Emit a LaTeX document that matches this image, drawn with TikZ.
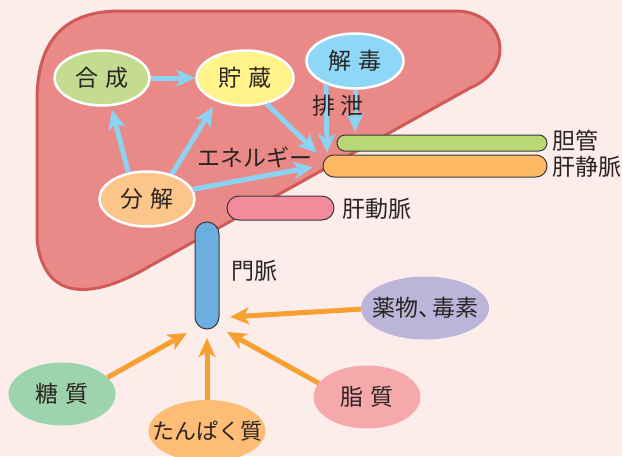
\documentclass[tikz,border=0pt]{standalone}
\usepackage{fontspec}
\setmainfont{Noto Sans CJK JP}
\usetikzlibrary{shapes.geometric,arrows.meta}
\definecolor{bgc}{HTML}{FCEDEB}
\definecolor{liverfill}{HTML}{E98A89}
\definecolor{liverline}{HTML}{CF5A57}
\definecolor{cgousei}{HTML}{C4DC8F}
\definecolor{cchozo}{HTML}{FFF38A}
\definecolor{cgedoku}{HTML}{8FD7F7}
\definecolor{cbunkai}{HTML}{FCC58A}
\definecolor{barrowc}{HTML}{8CD3F2}
\definecolor{oarrowc}{HTML}{F7A032}
\definecolor{ctankan}{HTML}{B9D774}
\definecolor{cjomyaku}{HTML}{FDB963}
\definecolor{cdomyaku}{HTML}{F38B9B}
\definecolor{cmonmyaku}{HTML}{6CAEE0}
\definecolor{cyaku}{HTML}{BBB5DA}
\definecolor{ctou}{HTML}{9DD3AD}
\definecolor{ctanpaku}{HTML}{FDBD76}
\definecolor{cshi}{HTML}{F6A9AB}
\definecolor{txt}{HTML}{2B2422}
\definecolor{barline}{HTML}{3A3A3A}
\newcommand{\zb}[1]{\makebox[0pt][c]{#1}}
\begin{document}
\begin{tikzpicture}[x=1pt,y=-1pt,
  every node/.style={text=txt,font=\fontsize{23}{27}\selectfont},
  func/.style={ellipse,draw=white,line width=2.5pt,minimum width=95pt,minimum height=55pt,inner sep=0pt},
  src/.style={ellipse,minimum width=107pt,minimum height=63pt,inner sep=0pt},
  vessel/.style={rectangle,draw=barline,line width=1pt,inner sep=0pt},
  barrow/.style={draw=barrowc,line width=5pt,-{Stealth[length=19pt,width=17pt,inset=5pt]}},
  oarrow/.style={draw=oarrowc,line width=5pt,-{Stealth[length=19pt,width=17pt,inset=5pt]}},
  lbl/.style={anchor=west,inner sep=0pt}]
\fill[bgc] (0,0) rectangle (622,456);
\useasboundingbox (0,0) rectangle (622,456);
% liver
\draw[fill=liverfill,draw=liverline,line width=3pt]
  (120,11) -- (455,11) .. controls (505,11) and (518,68) .. (470,88)
  -- (150,266) .. controls (105,293) and (45,310) .. (37,240)
  -- (37,100) .. controls (37,35) and (70,11) .. (120,11) -- cycle;
% vessels
\node[vessel,fill=ctankan,minimum width=210pt,minimum height=16pt,rounded corners=8pt] (tankan) at (442,143) {};
\node[vessel,fill=cjomyaku,minimum width=224pt,minimum height=22pt,rounded corners=11pt] (jomyaku) at (435,166) {};
\node[vessel,fill=cdomyaku,minimum width=107pt,minimum height=24pt,rounded corners=12pt] (domyaku) at (280.5,208) {};
\node[vessel,fill=cmonmyaku,minimum width=24pt,minimum height=107pt,rounded corners=12pt] (monmyaku) at (207,275.5) {};
\node[lbl] (ltankan) at (552,141) {胆管};
\node[lbl] (ljomyaku) at (552,167) {肝静脈};
\node[lbl] (ldomyaku) at (342,209) {肝動脈};
\node[lbl] (lmonmyaku) at (231,271) {門脈};
% function nodes
\node[func,fill=cgousei] (gousei) at (102,78) {\zb{合\hspace{7pt}成}};
\node[func,fill=cchozo,minimum width=97pt] (chozo) at (245,78) {\zb{貯\hspace{7pt}蔵}};
\node[func,fill=cgedoku,minimum width=97pt] (gedoku) at (355,61) {\zb{解\hspace{7pt}毒}};
\node[func,fill=cbunkai] (bunkai) at (147,199) {\zb{分\hspace{7pt}解}};
% targets
\coordinate (tA) at (112,110);
\coordinate (tB) at (213,107);
\coordinate (tC) at (317,153);
\coordinate (tD) at (313,167);
\coordinate (tE) at (327,153);
\coordinate (tF) at (355,132);
% blue arrows
\draw[barrow] (gousei) -- (chozo);
\draw[barrow] (bunkai.125) -- (tA);
\draw[barrow] (bunkai.45) -- (tB);
\draw[barrow] (chozo.-50) -- (tC);
\draw[barrow] (bunkai.12) -- (tD);
\draw[barrow] (gedoku.-141) -- (tE);
\draw[barrow] (gedoku.south) -- (tF);
\node (haisetsu) at (338,106) {排\hspace{6pt}泄};
\node (energy) at (255,157) {エネルギー};
% source nodes
\node[src,fill=cyaku,minimum width=128pt] (yaku) at (425,308) {\zb{薬物、\kern-9pt毒素}};
\node[src,fill=ctou] (tou) at (62,394) {\zb{糖\hspace{7pt}質}};
\node[src,fill=ctanpaku,minimum width=117pt,minimum height=62pt] (tanpaku) at (207,431) {\zb{\fontsize{22}{26}\selectfont たんぱく質}};
\node[src,fill=cshi] (shi) at (367,397) {\zb{脂\hspace{7pt}質}};
\coordinate (oA) at (230,317);
\coordinate (oB) at (187,333);
\coordinate (oC) at (207,338);
\coordinate (oD) at (227,332);
\draw[oarrow] (yaku.181) -- (oA);
\draw[oarrow] (tou.20) -- (oB);
\draw[oarrow] (tanpaku.north) -- (oC);
\draw[oarrow] (shi.164) -- (oD);
\end{tikzpicture}
\end{document}
